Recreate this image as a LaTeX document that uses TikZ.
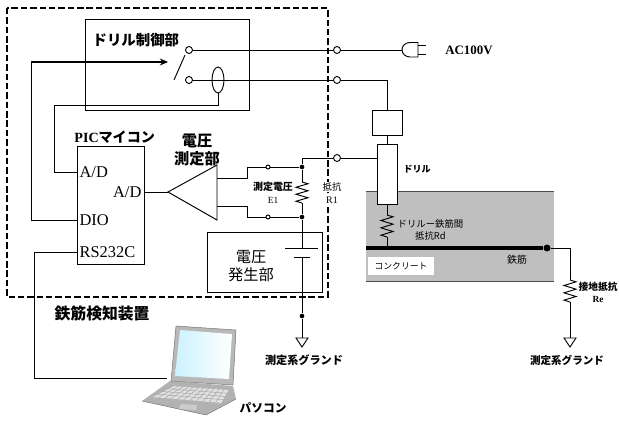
\documentclass[tikz,border=0pt]{standalone}
\usepackage{fontspec}
\setmainfont{Liberation Serif}
\newfontfamily\jp{Noto Sans CJK JP}
\usetikzlibrary{calc}
\usetikzlibrary{arrows.meta}
\usetikzlibrary{shapes.geometric}

\tikzset{
	term/.style={circle, draw, fill=white, inner sep=0pt, minimum size=0.21cm},
	sterm/.style={circle, draw, fill=white, inner sep=0pt, minimum size=0.12cm},
	dot/.style={circle, fill, inner sep=0pt, minimum size=0.14cm},
	port/.style={font=\fontsize{14}{16}\selectfont, inner sep=1pt},
	jbold/.style={font=\jp\bfseries\fontsize{#1}{#1}\selectfont, inner sep=1pt},
	jthin/.style={font=\jp\fontsize{#1}{#1}\selectfont, inner sep=1pt}
}

\newcommand{\resist}[3] % x, top y, bottom y (picture units)
{
	\pgfmathsetmacro{\rh}{(#3-#2)/6}
	\draw (#1,#2) -- ++(6,0.5*\rh) -- ++(-12,\rh) -- ++(12,\rh) -- ++(-12,\rh)
		-- ++(12,\rh) -- ++(-12,\rh) -- (#1,#3);
}
\newcommand{\gnd}[2] % x, y of the top of the ground triangle
{
	\draw (#1-6,#2) -- (#1+6,#2) -- (#1,#2+9) -- cycle;
}

\begin{document}
\begin{tikzpicture}[x=0.03cm, y=-0.03cm, line width=0.8pt]
	\useasboundingbox (0,0) rectangle (619,423);

	% concrete block with the rebar
	\fill[black!25] (366,191) rectangle (554,281);
	\draw[black!70] (366,191) -- (554,191);
	\draw[black!70] (366,281) -- (554,281);
	\node[fill=white, minimum width=1.98cm, minimum height=0.54cm, inner sep=0pt, jthin=7.5] (conc) at (401,266) {コンクリート};
	\node[dot, minimum size=0.21cm] (barEnd) at (547,248) {};
	\draw[line width=3.3pt] (366,248) -- (barEnd);
	\node[jthin=8.5] (bar) at (517,260) {鉄筋};

	% housing of the detector
	\draw[line width=1.3pt, dash pattern=on 5.5pt off 2.5pt] (7,8) rectangle (328,297);
	\node[anchor=west, jbold=13.5] (device) at (53,313) {鉄筋検知装置};

	% drill control unit
	\draw (85,19) rectangle (249,110);
	\node[anchor=west, jbold=12.3] (ctrl) at (91,40) {ドリル制御部};
	\node[term] (swA) at (189,50) {};
	\node[term] (swB) at (189,80) {};
	\draw (174,80) -- (185,55);
	\node[draw, ellipse, minimum width=0.36cm, minimum height=0.78cm, inner sep=0pt] (ct) at (218,80) {};

	% terminals on the housing
	\node[term] (tAC) at (337,50) {};
	\node[term] (tDr) at (337,80) {};
	\node[term] (tMs) at (337,158) {};
	\draw (swA) -- (tAC);
	\draw (swB) -- (tDr);

	% mains plug
	\coordinate (plug) at (402,50);
	\draw (tAC) -- (plug);
	\draw (418,42.5) -- (410,42.5) arc[start angle=270, end angle=90, x radius=8, y radius=7.25] -- (418,57) -- cycle;
	\draw (418,45) -- (426,45);
	\draw (418,54) -- (426,54);
	\node[anchor=west, font=\bfseries\fontsize{11}{13}\selectfont] (ac) at (441,50) {AC100V};

	% drill
	\node[draw, minimum width=0.9cm, minimum height=0.75cm, inner sep=0pt] (chuck) at (387,122.5) {};
	\node[draw, fill=white, minimum width=0.6cm, minimum height=1.8cm, inner sep=0pt] (drill) at (387,174) {};
	\draw (tDr) -| (chuck.north);
	\draw (chuck) -- (drill);
	\draw (drill.west |- tMs) -- (tMs);
	\node[anchor=west, jbold=7.7] (drLbl) at (402,169) {ドリル};
	\draw (drill.south) -- (387,215);
	\resist{387}{215}{237};
	\draw (387,237) -- (387,248);
	\node[anchor=west, jthin=8, align=center] (rdLbl) at (396,230) {ドリルー鉄筋間\\[2pt]抵抗Rd};

	% measuring resistor R1
	\node[dot] (jTop) at (302,167) {};
	\node[dot] (jBot) at (302,217) {};
	\draw (tMs) -| (jTop);
	\draw (jTop) -- (302,182);
	\resist{302}{182}{203};
	\draw (302,203) -- (jBot);
	\node[jbold=8.5] (eLbl) at (273,187) {測定電圧};
	\node[font=\fontsize{8}{9}\selectfont] (e1) at (273,200) {E1};
	\node[jthin=8, fill=white] (rLbl) at (332,187) {抵抗};
	\node[font=\fontsize{8.5}{9}\selectfont, fill=white] (r1) at (332,200) {R1};

	% voltage measurement amplifier
	\node[sterm] (mA) at (268,167) {};
	\node[sterm] (mB) at (268,217) {};
	\draw (jTop) -- (mA);
	\draw (jBot) -- (mB);
	\coordinate (ampIn1) at (217,178);
	\coordinate (ampIn2) at (217,206);
	\coordinate (ampOut) at (168,192);
	\draw (217,165) -- (217,220) -- (ampOut) -- cycle;
	\draw (mA) -- ++(-21,0) |- (ampIn1);
	\draw (mB) -- ++(-21,0) |- (ampIn2);
	\node[jbold=13, align=center] (vm) at (197,150) {電圧\\[3pt]測定部};

	% PIC microcontroller
	\node[draw, minimum width=2.01cm, minimum height=3.54cm, inner sep=0pt] (pic) at (110.5,205) {};
	\node[anchor=west, font=\fontsize{12}{14}\selectfont, inner sep=0pt] (picLbl) at (74,137) {\bfseries PIC{\jp\bfseries マイコン}};
	\node[anchor=west, port] (adIn) at (78,172) {A/D};
	\node[anchor=east, port] (adOut) at (143,192) {A/D};
	\node[anchor=west, port] (dio) at (78,220) {DIO};
	\node[anchor=west, port] (rs) at (78,252) {RS232C};
	\draw (ampOut) -- (pic.east |- ampOut);

	% switch drive and current sensing
	\coordinate (dioTurn) at (31,62);
	\coordinate (swArrow) at (168,62);
	\draw (pic.west |- dio) -| (dioTurn);
	\draw[line width=1.6pt, -{Stealth[length=7pt, width=6pt]}] (dioTurn) -- (swArrow);
	\draw (ct.south) |- (54,105) |- (pic.west |- adIn);

	% voltage generator
	\draw (207,232) rectangle (322,292);
	\node[font=\jp\fontsize{13}{15.5}\selectfont, align=center] (vg) at (251,266) {電圧\\発生部};
	\draw (jBot) -- (302,248);
	\draw (285,248) -- (318,248);
	\draw (294,257) -- (310,257);
	\node[dot] (gDotL) at (302,316) {};
	\draw (302,257) -- (gDotL);
	\draw (gDotL) -- (302,338);
	\gnd{302}{338}
	\node[jbold=9.5] (gndL) at (304,360) {測定系グランド};

	% earth resistance of the rebar
	\draw (barEnd) -| (570,280);
	\resist{570}{280}{302};
	\draw (570,302) -- (570,338);
	\gnd{570}{338}
	\node[anchor=west, jbold=8.3] (reLbl) at (577,287) {接地抵抗};
	\node[font=\bfseries\fontsize{8}{9}\selectfont] (re) at (598,299) {Re};
	\node[jbold=9] (gndR) at (567,360) {測定系グランド};

	% portable computer
	\fill[black!30] (142,401) -- (170,381) -- (233,386) -- (236,399) -- (206,415) -- cycle;
	\draw[black!55, line width=0.4pt] (142,401) -- (206,415) -- (236,399);
	\fill[black!12] (152,397) -- (173,386) -- (229,390) -- (222,403) -- cycle;
	\foreach \k in {0,...,11}
		\draw[black!40, line width=0.3pt] ($(173,386)!\k/11!(229,390)$) -- ($(152,397)!\k/11!(222,403)$);
	\foreach \r in {1,2,3}
		\draw[black!40, line width=0.3pt] ($(173,386)!\r/4!(152,397)$) -- ($(229,390)!\r/4!(222,403)$);
	\fill[black!20] (181,404) -- (197,405) -- (196,410) -- (179,409) -- cycle;
	\filldraw[fill=black!28, draw=black!55, line width=0.4pt] (176,326) -- (236,330) -- (233,385) -- (171,381) -- cycle;
	\shade[left color=blue!25!cyan!20, right color=white] (180,330) -- (232,334) -- (229,379) -- (175,376) -- cycle;
	\coordinate (pcPort) at (167,378);
	\draw (pic.west |- rs) -| (34,378) -- (pcPort);
	\node[anchor=west, jbold=10] (pc) at (238,408) {パソコン};
\end{tikzpicture}
\end{document}
